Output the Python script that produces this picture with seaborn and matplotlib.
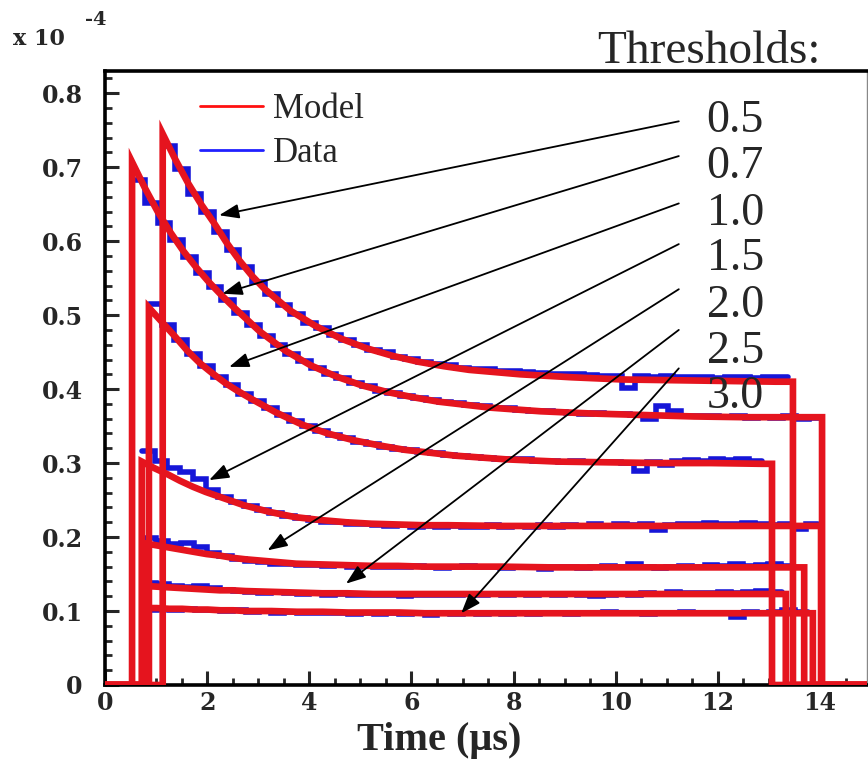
import matplotlib
matplotlib.use("Agg")
import matplotlib.pyplot as plt
import seaborn as sns
import pandas as pd
from matplotlib.lines import Line2D
from matplotlib.ticker import MultipleLocator

# ---------------- data ----------------
THRESHOLDS = ["0.5", "0.7", "1.0", "1.5", "2.0", "2.5", "3.0"]
START = [1.13, 0.53, 0.86, 0.72, 0.74, 0.75, 0.76]      # us, rise time of each pulse
END = [13.47, 14.04, 13.06, 14.02, 13.69, 13.33, 13.86]   # us, fall time of each pulse

# model values at START + offset (us)
MODEL_OFFSETS = [0, 0.25, 0.5, 0.75, 1.0, 1.25, 1.5, 1.75, 2.0, 2.5, 3.0, 3.5,
                 4.0, 4.5, 5.0, 5.5, 6.0, 7.0, 8.0, 9.0, 10.0, 11.0, 12.0]
MODEL_05 = [0.745, 0.710, 0.678, 0.650, 0.625, 0.598, 0.574, 0.553, 0.535, 0.506,
            0.485, 0.468, 0.455, 0.445, 0.437, 0.431, 0.426, 0.420, 0.416, 0.413,
            0.412, 0.411, 0.410]
MODEL_07 = [0.707, 0.672, 0.640, 0.612, 0.587, 0.565, 0.545, 0.527, 0.510, 0.478,
            0.452, 0.432, 0.417, 0.405, 0.396, 0.389, 0.383, 0.375, 0.370, 0.367,
            0.365, 0.363, 0.362]
MODEL_10 = [0.510, 0.491, 0.472, 0.452, 0.435, 0.421, 0.408, 0.397, 0.387, 0.368,
            0.352, 0.340, 0.331, 0.324, 0.318, 0.314, 0.310, 0.305, 0.302, 0.301,
            0.300, 0.300, 0.299]
MODEL_15 = [0.302, 0.293, 0.285, 0.276, 0.268, 0.261, 0.255, 0.249, 0.243, 0.234,
            0.227, 0.223, 0.220, 0.218, 0.217, 0.216, 0.216, 0.215, 0.215, 0.215,
            0.215, 0.215, 0.215]
MODEL_20 = [0.192, 0.189, 0.186, 0.183, 0.180, 0.177, 0.175, 0.172, 0.170, 0.167,
            0.164, 0.163, 0.162, 0.161, 0.161, 0.160, 0.160, 0.160, 0.159, 0.159,
            0.159, 0.159, 0.159]
MODEL_25 = [0.134, 0.133, 0.132, 0.131, 0.130, 0.129, 0.128, 0.128, 0.127, 0.126,
            0.125, 0.124, 0.124, 0.123, 0.123, 0.123, 0.123, 0.123, 0.123, 0.123,
            0.123, 0.123, 0.123]
MODEL_30 = [0.104, 0.104, 0.103, 0.103, 0.102, 0.102, 0.101, 0.101, 0.100, 0.100,
            0.099, 0.099, 0.098, 0.098, 0.098, 0.097, 0.097, 0.097, 0.097, 0.097,
            0.097, 0.097, 0.097]

# measured histogram, bins of DATA_BIN us starting at START
DATA_BIN = 0.25
DATA_05 = [0.729, 0.697, 0.664, 0.640, 0.612, 0.588, 0.565, 0.545, 0.529, 0.514,
           0.502, 0.490, 0.483, 0.473, 0.466, 0.459, 0.453, 0.450, 0.444, 0.441,
           0.437, 0.434, 0.432, 0.429, 0.427, 0.427, 0.425, 0.424, 0.423, 0.422,
           0.421, 0.421, 0.420, 0.419, 0.418, 0.418, 0.401, 0.418, 0.417, 0.418,
           0.416, 0.417, 0.416, 0.415, 0.417, 0.416, 0.415, 0.417, 0.416]
DATA_07 = [0.682, 0.652, 0.624, 0.602, 0.578, 0.557, 0.538, 0.520, 0.503, 0.487,
           0.472, 0.460, 0.447, 0.438, 0.428, 0.421, 0.415, 0.408, 0.404, 0.398,
           0.395, 0.391, 0.388, 0.385, 0.382, 0.381, 0.378, 0.377, 0.374, 0.374,
           0.372, 0.371, 0.370, 0.369, 0.368, 0.367, 0.368, 0.366, 0.367, 0.365,
           0.360, 0.377, 0.371, 0.364, 0.363, 0.364, 0.362, 0.363, 0.361, 0.362,
           0.361, 0.363, 0.359, 0.361]
DATA_10 = [0.515, 0.487, 0.466, 0.447, 0.431, 0.416, 0.405, 0.394, 0.384, 0.375,
           0.365, 0.357, 0.350, 0.344, 0.338, 0.334, 0.329, 0.326, 0.322, 0.319,
           0.317, 0.315, 0.313, 0.311, 0.310, 0.308, 0.307, 0.306, 0.305, 0.305,
           0.303, 0.303, 0.302, 0.303, 0.301, 0.302, 0.302, 0.300, 0.289, 0.302,
           0.297, 0.303, 0.304, 0.303, 0.305, 0.304, 0.305, 0.303]
DATA_15 = [0.316, 0.303, 0.294, 0.288, 0.279, 0.263, 0.254, 0.247, 0.242, 0.237,
           0.232, 0.229, 0.226, 0.223, 0.221, 0.220, 0.218, 0.218, 0.216, 0.215,
           0.216, 0.214, 0.215, 0.214, 0.215, 0.213, 0.214, 0.216, 0.213, 0.215,
           0.214, 0.216, 0.214, 0.216, 0.215, 0.217, 0.215, 0.218, 0.216, 0.217,
           0.209, 0.216, 0.218, 0.217, 0.219, 0.218, 0.217, 0.219, 0.218, 0.216,
           0.217, 0.211, 0.217]
DATA_20 = [0.199, 0.195, 0.191, 0.192, 0.187, 0.179, 0.175, 0.171, 0.168, 0.166,
           0.164, 0.163, 0.162, 0.162, 0.161, 0.162, 0.160, 0.161, 0.159, 0.160,
           0.159, 0.161, 0.160, 0.158, 0.160, 0.161, 0.159, 0.160, 0.158, 0.160,
           0.159, 0.157, 0.159, 0.160, 0.158, 0.160, 0.161, 0.159, 0.164, 0.160,
           0.158, 0.160, 0.161, 0.159, 0.162, 0.161, 0.163, 0.161, 0.162, 0.163,
           0.161]
DATA_25 = [0.138, 0.136, 0.134, 0.133, 0.134, 0.131, 0.129, 0.127, 0.126, 0.125,
           0.126, 0.124, 0.123, 0.124, 0.122, 0.123, 0.121, 0.122, 0.121, 0.122,
           0.120, 0.122, 0.121, 0.122, 0.121, 0.123, 0.122, 0.123, 0.122, 0.123,
           0.121, 0.123, 0.122, 0.123, 0.122, 0.120, 0.122, 0.123, 0.121, 0.124,
           0.123, 0.126, 0.124, 0.125, 0.124, 0.126, 0.125, 0.126, 0.127, 0.126]
DATA_30 = [0.101, 0.103, 0.102, 0.103, 0.102, 0.101, 0.100, 0.101, 0.099, 0.100,
           0.098, 0.099, 0.097, 0.098, 0.097, 0.098, 0.096, 0.097, 0.096, 0.097,
           0.096, 0.097, 0.095, 0.097, 0.096, 0.097, 0.096, 0.098, 0.096, 0.097,
           0.096, 0.098, 0.097, 0.096, 0.098, 0.097, 0.099, 0.097, 0.098, 0.096,
           0.098, 0.097, 0.099, 0.097, 0.098, 0.097, 0.092, 0.099, 0.098, 0.099,
           0.101, 0.099]

MODELS = [MODEL_05, MODEL_07, MODEL_10, MODEL_15, MODEL_20, MODEL_25, MODEL_30]
DATAS = [DATA_05, DATA_07, DATA_10, DATA_15, DATA_20, DATA_25, DATA_30]

# annotation anchors (data coords): where each threshold arrow points
ARROW_TIP = [(2.235, 0.635), (2.30, 0.529), (2.431, 0.430), (2.039, 0.277),
             (3.183, 0.182), (4.719, 0.137), (6.975, 0.097)]
ARROW_TAIL_Y = [0.762, 0.715, 0.651, 0.596, 0.535, 0.480, 0.428]
ARROW_TAIL_X = 11.235
LABEL_X = 11.78
LABEL_Y = [0.748, 0.685, 0.622, 0.561, 0.498, 0.435, 0.374]

XMAX = 14.92
YMAX = 0.83

# ---------------- figure ----------------
sns.set_style("white")
plt.rcParams["font.family"] = ["Liberation Serif", "DejaVu Serif"]

RED = "#e5141e"
BLUE = "#1616d8"

fig = plt.figure(figsize=(8.68, 7.68), dpi=100)
W, H = 868, 768
ax = fig.add_axes([105 / W, 1 - 685 / H, (867 - 105) / W, (685 - 71) / H])

for t0, t1, data in zip(START, END, DATAS):
    xs = [t0 + i * DATA_BIN for i in range(len(data))] + [t0 + len(data) * DATA_BIN]
    ys = list(data) + [data[-1]]
    df = pd.DataFrame({"t": xs, "v": ys})
    sns.lineplot(data=df, x="t", y="v", ax=ax, sort=False, estimator=None,
                 color=BLUE, lw=4.0, drawstyle="steps-post", zorder=2)

for t0, t1, model in zip(START, END, MODELS):
    xs = [0.0, t0] + [t0 + o for o in MODEL_OFFSETS] + [t1, t1, XMAX + 0.5]
    ys = [0.0, 0.0] + list(model) + [model[-1], 0.0, 0.0]
    df = pd.DataFrame({"t": xs, "v": ys})
    sns.lineplot(data=df, x="t", y="v", ax=ax, sort=False, estimator=None,
                 color=RED, lw=4.8, zorder=3)

for line in ax.get_lines():
    line.set_solid_joinstyle("miter")

# arrows + threshold labels
for lab, tip, ty, ly in zip(THRESHOLDS, ARROW_TIP, ARROW_TAIL_Y, LABEL_Y):
    ax.annotate("", xy=tip, xytext=(ARROW_TAIL_X, ty),
                arrowprops=dict(arrowstyle="-|>,head_length=0.6,head_width=0.22",
                                mutation_scale=20, lw=1.3, color="black",
                                shrinkA=0, shrinkB=0), zorder=5)
    ax.text(LABEL_X, ly, lab, fontsize=33, family="Liberation Serif",
            ha="left", va="baseline", zorder=6)

fig.text(596.7 / W, 1 - 63.3 / H, "Thresholds:", fontsize=34,
         family="Liberation Serif", ha="left", va="baseline")

# legend
handles = [Line2D([], [], color="#ff1010", lw=2.0),
           Line2D([], [], color="#2020ff", lw=2.0)]
ax.legend(handles, ["Model", "Data"], loc="upper left",
          bbox_to_anchor=((200 - 105) / 762, (685 - 93) / 614),
          frameon=False, prop={"family": "Liberation Serif", "size": 25},
          handlelength=1.8, handletextpad=0.3, labelspacing=0.32,
          borderpad=0, borderaxespad=0)

# axes
ax.set_xlim(0, XMAX)
ax.set_ylim(0, YMAX)
ax.xaxis.set_major_locator(MultipleLocator(2))
ax.xaxis.set_minor_locator(MultipleLocator(0.5))
ax.yaxis.set_major_locator(MultipleLocator(0.1))
ax.yaxis.set_minor_locator(MultipleLocator(0.02))
ax.tick_params(which="major", direction="in", length=10, width=2.2,
               top=False, right=False, left=True, bottom=True)
ax.tick_params(which="minor", direction="in", length=5, width=2.0,
               top=False, right=False, left=True, bottom=True)
ax.tick_params(axis="y", pad=16)
ax.tick_params(axis="x", pad=4)

ax.set_xticks([0, 2, 4, 6, 8, 10, 12, 14])
ax.set_xticklabels(["0", "2", "4", "6", "8", "10", "12", "14"])
yt = [0, 0.1, 0.2, 0.3, 0.4, 0.5, 0.6, 0.7, 0.8]
ax.set_yticks(yt)
ax.set_yticklabels(["0" if v == 0 else f"{v:.1f}" for v in yt])
for lbl in ax.get_xticklabels() + ax.get_yticklabels():
    lbl.set_family("DejaVu Serif")
    lbl.set_fontweight("bold")
    lbl.set_fontsize(17)

for side in ["left", "bottom", "top"]:
    ax.spines[side].set_linewidth(2.6)
    ax.spines[side].set_color("black")
ax.spines["right"].set_linewidth(1.0)
ax.spines["right"].set_color("#888888")

ax.set_xlabel("")
ax.set_ylabel("")
fig.text(439 / W, 1 - 750 / H, "Time (\u03bcs)", fontsize=29, fontweight="bold",
         family="Liberation Serif", ha="center", va="baseline")
fig.text(13 / W, 1 - 45 / H, "x 10", fontsize=16, fontweight="bold",
         family="DejaVu Serif", ha="left", va="baseline")
fig.text(85 / W, 1 - 25 / H, "-4", fontsize=14, fontweight="bold",
         family="DejaVu Serif", ha="left", va="baseline")

fig.savefig("out.png", dpi=100)
